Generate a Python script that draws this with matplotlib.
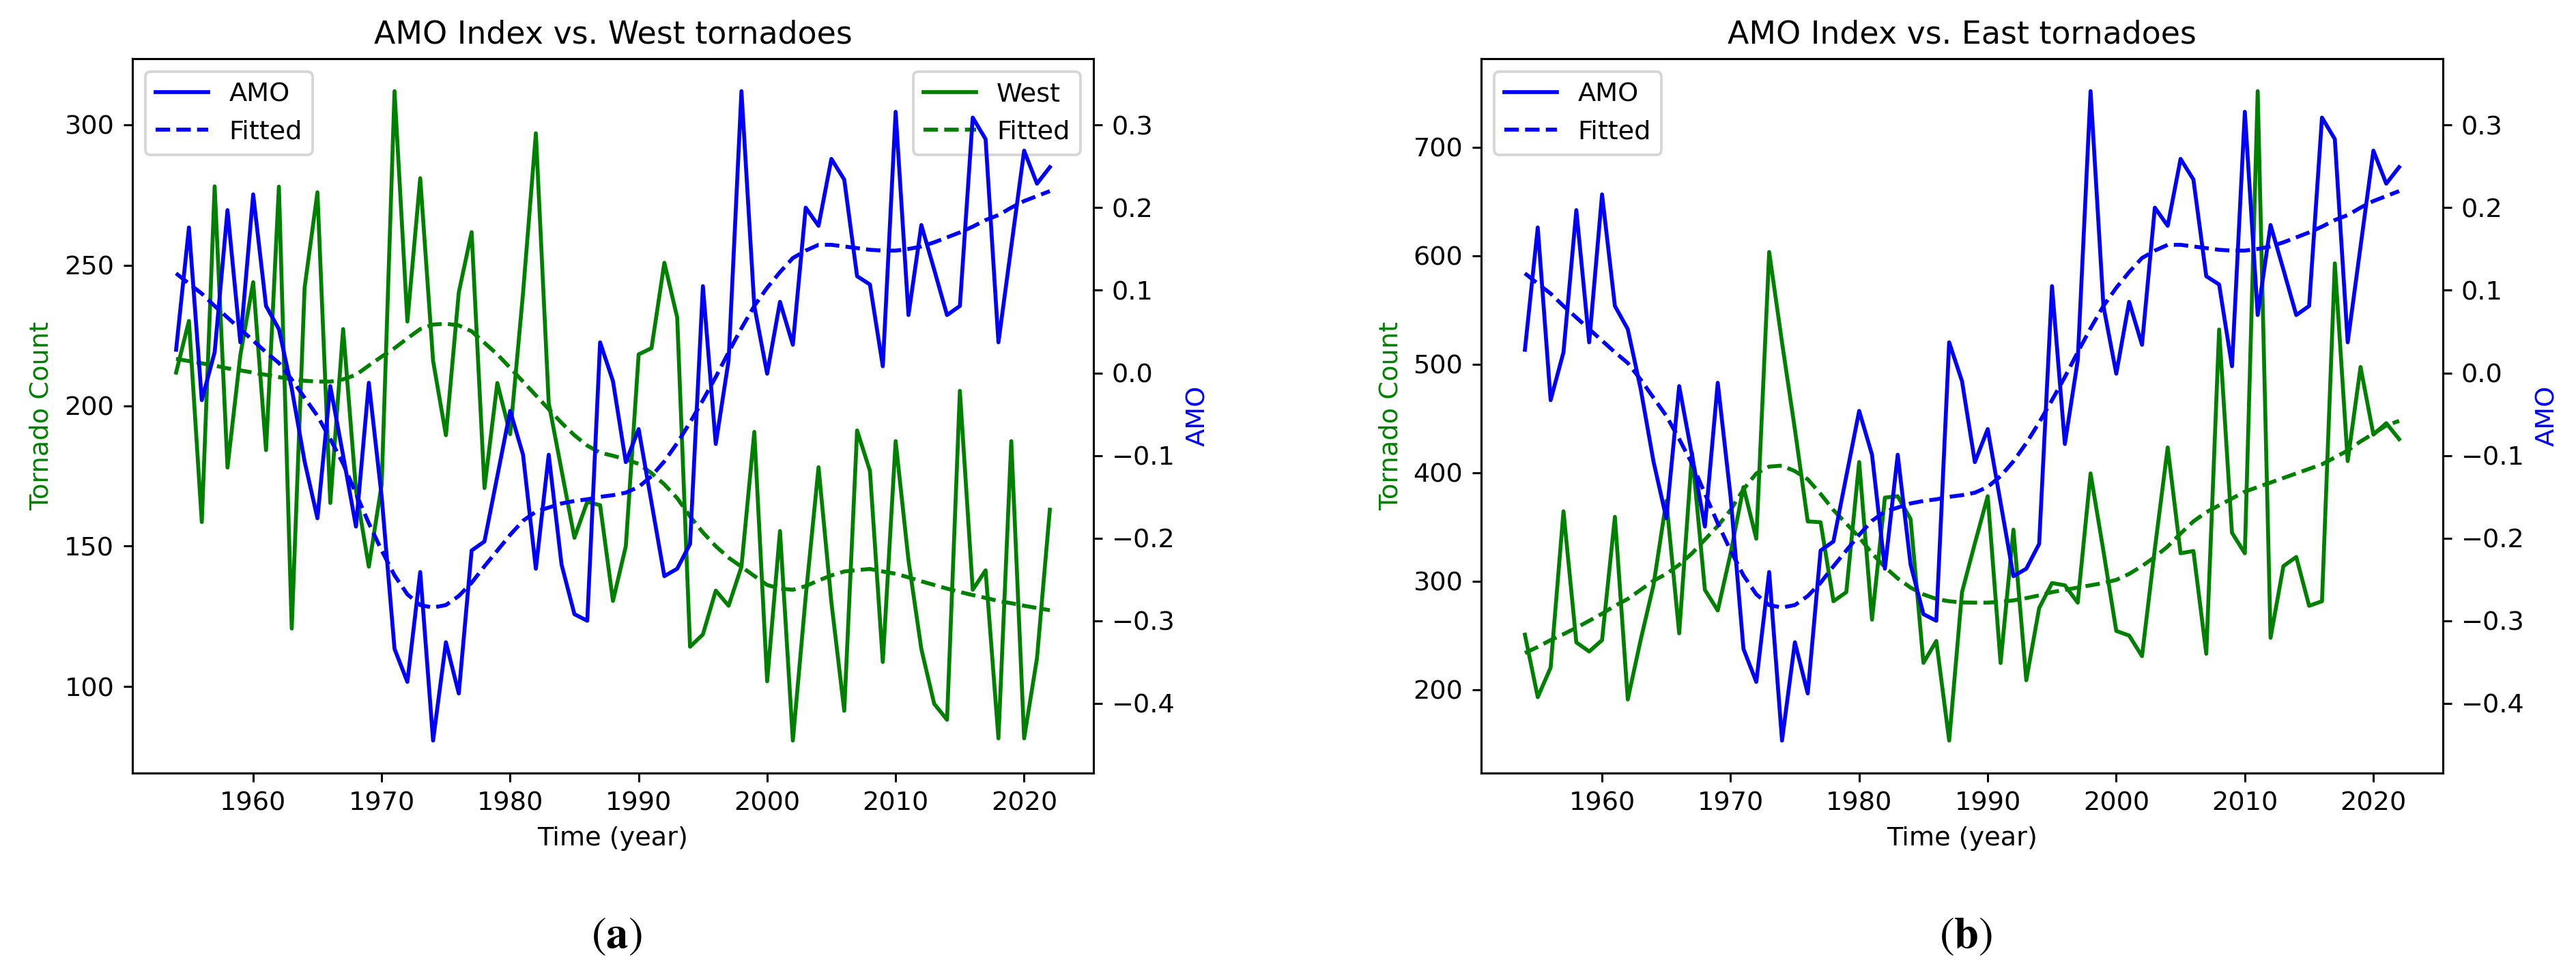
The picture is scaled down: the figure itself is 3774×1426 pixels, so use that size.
import numpy as np
import matplotlib
matplotlib.use('Agg')
import matplotlib.pyplot as plt

# Tahun pengamatan
years = np.arange(1954, 2023)

# Indeks AMO (sama di kedua panel)
amo = [0.028, 0.176, -0.033, 0.025, 0.197, 0.037, 0.216, 0.081, 0.053, -0.019,
       -0.107, -0.176, -0.016, -0.100, -0.186, -0.012, -0.150, -0.334,
       -0.374, -0.241, -0.445, -0.326, -0.388, -0.215, -0.204, -0.125, -0.046,
       -0.099, -0.237, -0.099, -0.232, -0.292, -0.300, 0.037, -0.010,
       -0.108, -0.068, -0.157, -0.246, -0.237, -0.207, 0.105, -0.086, 0.015,
       0.341, 0.081, -0.001, 0.086, 0.034, 0.200, 0.178, 0.259,
       0.234, 0.117, 0.107, 0.008, 0.316, 0.070, 0.179, 0.125, 0.070, 0.081,
       0.309, 0.283, 0.037, 0.153, 0.269, 0.229, 0.249]

amo_fit = [0.1205, 0.108, 0.096, 0.081, 0.067, 0.053, 0.039, 0.025, 0.012, -0.008,
           -0.030, -0.052, -0.080, -0.110, -0.146, -0.182, -0.215, -0.245,
           -0.268, -0.281, -0.284, -0.281, -0.270, -0.254, -0.234, -0.215, -0.196,
           -0.179, -0.168, -0.163, -0.158, -0.155, -0.153, -0.150, -0.148,
           -0.145, -0.138, -0.125, -0.107, -0.085, -0.060, -0.033, -0.005, 0.025,
           0.054, 0.081, 0.103, 0.122, 0.139, 0.148, 0.155, 0.155,
           0.153, 0.151, 0.149, 0.148, 0.148, 0.150, 0.153, 0.158, 0.164, 0.170,
           0.177, 0.185, 0.191, 0.200, 0.208, 0.214, 0.220]

# Jumlah tornado wilayah barat
west = [211.8, 230.2, 158.6, 278.1, 178, 218, 244, 184.2, 278, 120.7,
        242, 276, 165.4, 227.3, 170, 142.7, 172, 312,
        230, 281, 216, 189.5, 240.3, 261.8, 170.7, 208.1, 189.9,
        240, 297, 201, 177, 153, 165.8, 164.6, 130.5,
        150, 218.3, 220.5, 250.9, 231.4, 114.2, 118.6, 134.2, 128.8,
        142.7, 190.7, 101.9, 155.4, 80.8, 132, 178.1, 130,
        91.4, 191.2, 176.8, 108.8, 187.4, 145, 113.4, 93.9, 88.2, 205.3,
        134.5, 141.4, 81.6, 187.4, 81.6, 110.1, 163]

west_fit = [216.7, 215.9, 215.1, 214.3, 213.3, 212.6, 211.8, 211.0, 210.2, 209.4,
            208.9, 208.6, 208.6, 209.4, 211.0, 214.3, 217.5, 220.5,
            224, 227.3, 228.9, 229.2, 228.6, 226.5, 222.4, 218.3, 213.5,
            208.6, 203.7, 198.8, 193.9, 189.5, 185.8, 183.3, 182.2,
            180.9, 179.3, 176, 172, 167.1, 160.6, 154.9, 150, 145.9,
            142.7, 139.4, 136.2, 134.9, 134.5, 135.8, 137.8, 139.6,
            141, 141.5, 141.9, 141, 140.2, 138.9, 137.5, 136.2, 134.9, 133.7,
            132.6, 131.6, 130.5, 129.7, 128.8, 128, 127.2]

# Jumlah tornado wilayah timur
east = [250.8, 193.2, 220.5, 364.5, 243.7, 235.3, 245.8, 359.4, 191.1, 245.8,
        296.3, 374.2, 252.1, 418.3, 292.1, 273.1, 325.8, 386.8,
        339.2, 603.5, 520, 440, 355.2, 354.4, 281.6, 290, 409.9,
        264.7, 377.1, 378.4, 357.3, 224.8, 245, 153.2, 290,
        335, 378.4, 224.7, 347.6, 208.8, 275.3, 298.4, 296.3, 280.3,
        399.4, 327.9, 254.2, 250, 231, 330, 423.4, 325.8,
        327.9, 233.2, 532, 344.7, 325.8, 751.7, 247.9, 314, 322.4, 277.4,
        281.6, 593, 410.8, 497.5, 435.2, 445.7, 431]

east_fit = [233.9, 239.5, 245.8, 251.3, 257.2, 263.6, 270.1, 277.4, 283.7, 292.1,
            300.5, 306.8, 315.2, 325.8, 338.4, 351, 365.7, 384.7,
            399.4, 405.7, 406.6, 401.5, 394, 380.5, 365.7, 353.1, 340.5,
            325.8, 313.1, 302.6, 294.2, 287.9, 283.7, 281.6, 280.5,
            280.3, 280.3, 281.1, 282.4, 284.5, 287, 290, 292.1, 294.2,
            296.3, 298.4, 301.3, 306.8, 314, 322.4, 332.1, 344,
            355.2, 363.6, 370, 376.3, 382.6, 386.8, 391, 395.2, 399.4, 403.6,
            407.8, 414.1, 420.5, 428.9, 436, 443.6, 447.8]

plt.rcParams['mathtext.fontset'] = 'stix'


def draw_panel(ax1, region, counts, counts_fit, show_region_legend):
    # Garis tornado di sumbu kiri
    ax1.plot(years, counts, color='green', label=region)
    ax1.plot(years, counts_fit, color='green', linestyle='--', label='Fitted')
    ax1.set_xlabel('Time (year)')
    ax1.set_ylabel('Tornado Count', color='green')
    if show_region_legend:
        ax1.legend(loc='upper right')

    # Garis AMO di sumbu kanan
    ax2 = ax1.twinx()
    ax2.plot(years, amo, color='blue', label='AMO')
    ax2.plot(years, amo_fit, color='blue', linestyle='--', label='Fitted')
    ax2.set_ylabel('AMO', color='blue')
    ax2.legend(loc='upper left')

    ax1.set_title('AMO Index vs. ' + region + ' tornadoes')


fig = plt.figure(figsize=(3774 / 275, 1426 / 275), dpi=275)

ax_west = fig.add_axes([0.0514, 0.2055, 0.3731, 0.7342])
draw_panel(ax_west, 'West', west, west_fit, True)

ax_east = fig.add_axes([0.575, 0.2055, 0.3733, 0.7342])
draw_panel(ax_east, 'East', east, east_fit, False)

# Keterangan panel
fig.text(0.2393, 0.037, r'($\mathbf{a}$)', family='STIXGeneral', fontsize=17,
         ha='center', va='center')
fig.text(0.7631, 0.037, r'($\mathbf{b}$)', family='STIXGeneral', fontsize=17,
         ha='center', va='center')

fig.savefig('out.png', dpi=275)
